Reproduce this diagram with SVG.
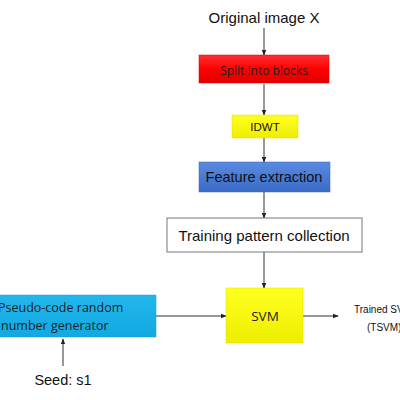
<svg xmlns="http://www.w3.org/2000/svg" width="400" height="400" viewBox="0 0 400 400">
<style>
.t{font-family:"Liberation Sans",Arial,sans-serif;fill:#111;text-anchor:middle}
.c{font-family:"Open Sans","Liberation Sans",sans-serif;fill:#222;text-anchor:middle}
.s{text-anchor:start}
.l{stroke:#333;stroke-width:1;fill:none;marker-end:url(#a)}
</style>
<defs>
<marker id="a" viewBox="0 0 8 8" refX="7" refY="4" markerWidth="6" markerHeight="6" orient="auto"><path d="M0,1 L8,4 L0,7 z" fill="#222"/></marker>
<linearGradient id="gr" x1="0" y1="0" x2="0" y2="1"><stop offset="0" stop-color="#ff3030"/><stop offset="0.5" stop-color="#f00"/><stop offset="1" stop-color="#e00000"/></linearGradient>
<linearGradient id="gb" x1="0" y1="0" x2="0" y2="1"><stop offset="0" stop-color="#5a8ae0"/><stop offset="1" stop-color="#3a6cc8"/></linearGradient>
<linearGradient id="gc" x1="0" y1="0" x2="0" y2="1"><stop offset="0" stop-color="#22b8ee"/><stop offset="1" stop-color="#12a8e0"/></linearGradient>
<linearGradient id="gy" x1="0" y1="0" x2="0" y2="1"><stop offset="0" stop-color="#ffff20"/><stop offset="1" stop-color="#eeee00"/></linearGradient>
</defs>
<g id="connectors">
<line class="l" x1="264" y1="28" x2="264" y2="55"/>
<line class="l" x1="264" y1="84" x2="264" y2="115"/>
<line class="l" x1="264" y1="138" x2="264" y2="162"/>
<line class="l" x1="264" y1="192" x2="264" y2="218"/>
<line class="l" x1="264" y1="252" x2="264" y2="288"/>
<line class="l" x1="156" y1="316" x2="226" y2="316"/>
<line class="l" x1="303" y1="316" x2="338" y2="316"/>
<line class="l" x1="63" y1="366" x2="63" y2="339"/>
</g>
<g id="original"><text class="t" x="264" y="23" font-size="15">Original image X</text></g>
<g id="split"><rect x="199" y="55" width="130" height="28" fill="url(#gr)" stroke="#d00" stroke-width="0.5"/><text class="c" x="264" y="75" font-size="12">Split into blocks</text></g>
<g id="idwt"><rect x="232" y="115" width="66" height="23" fill="url(#gy)" stroke="#dd0" stroke-width="0.5"/><text class="t" x="265" y="131" font-size="11.5">IDWT</text></g>
<g id="feature"><rect x="199" y="162" width="131" height="30" fill="url(#gb)" stroke="#3a66b8" stroke-width="0.5"/><text class="t" x="264" y="182" font-size="14.5">Feature extraction</text></g>
<g id="training"><rect x="167" y="218" width="195" height="34" fill="#fff" stroke="#777" stroke-width="1"/><text class="t" x="264" y="241" font-size="15">Training pattern collection</text></g>
<g id="svm"><rect x="226" y="288" width="77" height="55" fill="url(#gy)" stroke="#dd0" stroke-width="0.5"/><text class="c" x="265" y="321" font-size="13.5">SVM</text></g>
<g id="prng"><rect x="-2" y="295" width="158" height="42" fill="url(#gc)" stroke="#10a0d8" stroke-width="0.5"/><text class="c s" x="-2" y="312" font-size="12.5">Pseudo-code random</text><text class="c s" x="1" y="330" font-size="12.5">number generator</text></g>
<g id="seed"><text class="t" x="63" y="385" font-size="14.5">Seed: s1</text></g>
<g id="trained"><text class="t s" x="354" y="313" font-size="10">Trained SVM</text><text class="t s" x="367" y="331" font-size="10">(TSVM)</text></g>
</svg>
